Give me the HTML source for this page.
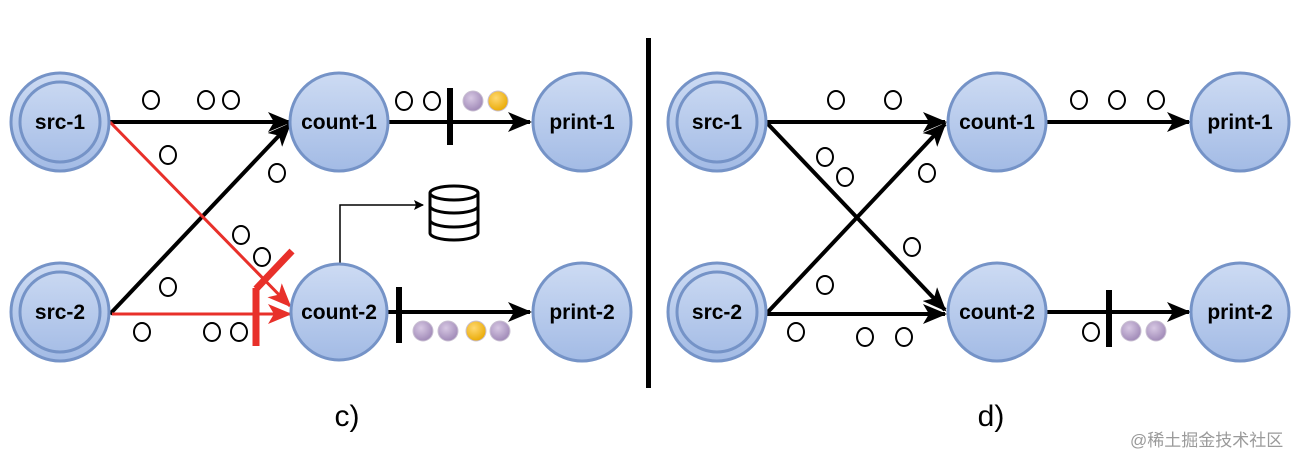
<!DOCTYPE html>
<html><head><meta charset="utf-8"><style>
html,body{margin:0;padding:0;background:#fff;width:1306px;height:466px;overflow:hidden}
svg text{font-family:"Liberation Sans",Arial,sans-serif}
</style></head><body>
<svg width="1306" height="466" viewBox="0 0 1306 466" xmlns="http://www.w3.org/2000/svg">
<defs>
<linearGradient id="g" x1="0" y1="0" x2="0" y2="1"><stop offset="0" stop-color="#cddbf3"/><stop offset="1" stop-color="#a3bbe5"/></linearGradient>
<radialGradient id="pg" cx="0.4" cy="0.35" r="0.7"><stop offset="0" stop-color="#d7c8e3"/><stop offset="1" stop-color="#9d86b5"/></radialGradient>
<radialGradient id="yg" cx="0.4" cy="0.35" r="0.7"><stop offset="0" stop-color="#ffd870"/><stop offset="1" stop-color="#e8a800"/></radialGradient>
<marker id="ab" markerWidth="24" markerHeight="20" refX="22" refY="10" orient="auto" markerUnits="userSpaceOnUse"><path d="M0,0 L24,10 L0,20 L6,10 z" fill="#000"/></marker>
<marker id="ar" markerWidth="24" markerHeight="20" refX="22" refY="10" orient="auto" markerUnits="userSpaceOnUse"><path d="M0,0 L24,10 L0,20 L6,10 z" fill="#e8302a"/></marker>
<marker id="as" markerWidth="10" markerHeight="10" refX="9" refY="5" orient="auto" markerUnits="userSpaceOnUse"><path d="M0,0 L10,5 L0,10 L2,5 z" fill="#000"/></marker>
</defs>

<rect x="646" y="38" width="5" height="350" fill="#000"/>

<g fill="none" stroke-width="4">
<line x1="110" y1="122" x2="290" y2="122" stroke="#000" marker-end="url(#ab)"/>
<line x1="110" y1="314" x2="290" y2="124" stroke="#000" marker-end="url(#ab)"/>
<line x1="110" y1="122" x2="290" y2="306" stroke="#e8302a" stroke-width="3" marker-end="url(#ar)"/>
<line x1="112" y1="314" x2="290" y2="314" stroke="#e8302a" stroke-width="3" marker-end="url(#ar)"/>
<line x1="388" y1="122" x2="530" y2="122" stroke="#000" marker-end="url(#ab)"/>
<line x1="388" y1="312" x2="530" y2="312" stroke="#000" marker-end="url(#ab)"/>
<line x1="766" y1="122" x2="945" y2="122" stroke="#000" marker-end="url(#ab)"/>
<line x1="766" y1="122" x2="945" y2="310" stroke="#000" marker-end="url(#ab)"/>
<line x1="766" y1="314" x2="945" y2="124" stroke="#000" marker-end="url(#ab)"/>
<line x1="766" y1="314" x2="945" y2="314" stroke="#000" marker-end="url(#ab)"/>
<line x1="1047" y1="122" x2="1189" y2="122" stroke="#000" marker-end="url(#ab)"/>
<line x1="1047" y1="312" x2="1189" y2="312" stroke="#000" marker-end="url(#ab)"/>
</g>

<g stroke="#e8302a" stroke-width="7" fill="none">
<line x1="256" y1="288" x2="256" y2="346"/>
<line x1="256" y1="289" x2="292" y2="251"/>
</g>

<rect x="447" y="88" width="6" height="57" fill="#000"/>
<rect x="396" y="287" width="6" height="56" fill="#000"/>
<rect x="1106" y="290" width="6" height="57" fill="#000"/>

<polyline points="340,265 340,205 423,205" fill="none" stroke="#000" stroke-width="1.5" marker-end="url(#as)"/>
<g fill="#fff" stroke="#000" stroke-width="3">
<path d="M430,193 L430,233 A24,7 0 0 0 478,233 L478,193"/>
<ellipse cx="454" cy="193" rx="24" ry="7"/>
<path d="M430,206 A24,7 0 0 0 478,206 M430,220 A24,7 0 0 0 478,220" fill="none"/>
</g>

<g fill="#fff" stroke="#000" stroke-width="2">
<ellipse cx="151" cy="100" rx="8" ry="9"/><ellipse cx="206" cy="100" rx="8" ry="9"/><ellipse cx="231" cy="100" rx="8" ry="9"/>
<ellipse cx="404" cy="101" rx="8" ry="9"/><ellipse cx="432" cy="101" rx="8" ry="9"/>
<ellipse cx="168" cy="155" rx="8" ry="9"/><ellipse cx="277" cy="173" rx="8" ry="9"/>
<ellipse cx="241" cy="235" rx="8" ry="9"/><ellipse cx="262" cy="257" rx="8" ry="9"/>
<ellipse cx="168" cy="287" rx="8" ry="9"/>
<ellipse cx="142" cy="332" rx="8" ry="9"/><ellipse cx="212" cy="332" rx="8" ry="9"/><ellipse cx="239" cy="332" rx="8" ry="9"/>
<ellipse cx="836" cy="100" rx="8" ry="9"/><ellipse cx="893" cy="100" rx="8" ry="9"/>
<ellipse cx="1079" cy="100" rx="8" ry="9"/><ellipse cx="1117" cy="100" rx="8" ry="9"/><ellipse cx="1156" cy="100" rx="8" ry="9"/>
<ellipse cx="825" cy="157" rx="8" ry="9"/><ellipse cx="845" cy="177" rx="8" ry="9"/>
<ellipse cx="927" cy="173" rx="8" ry="9"/><ellipse cx="912" cy="247" rx="8" ry="9"/>
<ellipse cx="825" cy="285" rx="8" ry="9"/>
<ellipse cx="796" cy="332" rx="8" ry="9"/><ellipse cx="865" cy="337" rx="8" ry="9"/><ellipse cx="904" cy="337" rx="8" ry="9"/>
<ellipse cx="1091" cy="332" rx="8" ry="9"/>
</g>
<g stroke="#c9c0d2" stroke-width="1">
<circle cx="473" cy="101" r="10" fill="url(#pg)"/><circle cx="498" cy="101" r="10" fill="url(#yg)"/>
<circle cx="423" cy="331" r="10" fill="url(#pg)"/><circle cx="448" cy="331" r="10" fill="url(#pg)"/>
<circle cx="476" cy="331" r="10" fill="url(#yg)"/><circle cx="500" cy="331" r="10" fill="url(#pg)"/>
<circle cx="1131" cy="331" r="10" fill="url(#pg)"/><circle cx="1156" cy="331" r="10" fill="url(#pg)"/>
</g>

<g stroke="#7593c7" stroke-width="3" fill="url(#g)">
<circle cx="60" cy="122" r="49"/><circle cx="60" cy="122" r="40" fill="none"/>
<circle cx="60" cy="312" r="49"/><circle cx="60" cy="312" r="40" fill="none"/>
<circle cx="339" cy="122" r="49"/><circle cx="339" cy="312" r="48"/>
<circle cx="582" cy="122" r="49"/><circle cx="582" cy="312" r="49"/>
<circle cx="717" cy="122" r="49"/><circle cx="717" cy="122" r="40" fill="none"/>
<circle cx="717" cy="312" r="49"/><circle cx="717" cy="312" r="40" fill="none"/>
<circle cx="997" cy="122" r="49"/><circle cx="997" cy="312" r="49"/>
<circle cx="1240" cy="122" r="49"/><circle cx="1240" cy="312" r="49"/>
</g>
<g font-size="21" font-weight="bold" fill="#000" text-anchor="middle">
<text x="60" y="129">src-1</text><text x="60" y="319">src-2</text>
<text x="339" y="129">count-1</text><text x="339" y="319">count-2</text>
<text x="582" y="129">print-1</text><text x="582" y="319">print-2</text>
<text x="717" y="129">src-1</text><text x="717" y="319">src-2</text>
<text x="997" y="129">count-1</text><text x="997" y="319">count-2</text>
<text x="1240" y="129">print-1</text><text x="1240" y="319">print-2</text>
</g>

<text x="347" y="426" font-size="30" text-anchor="middle" fill="#000">c)</text>
<text x="991" y="426" font-size="30" text-anchor="middle" fill="#000">d)</text>
<text x="1130" y="446" font-size="17" fill="#9a9a9a" style='font-family:"Liberation Sans","Noto Sans CJK SC",sans-serif'>@稀土掘金技术社区</text>
</svg>
</body></html>
